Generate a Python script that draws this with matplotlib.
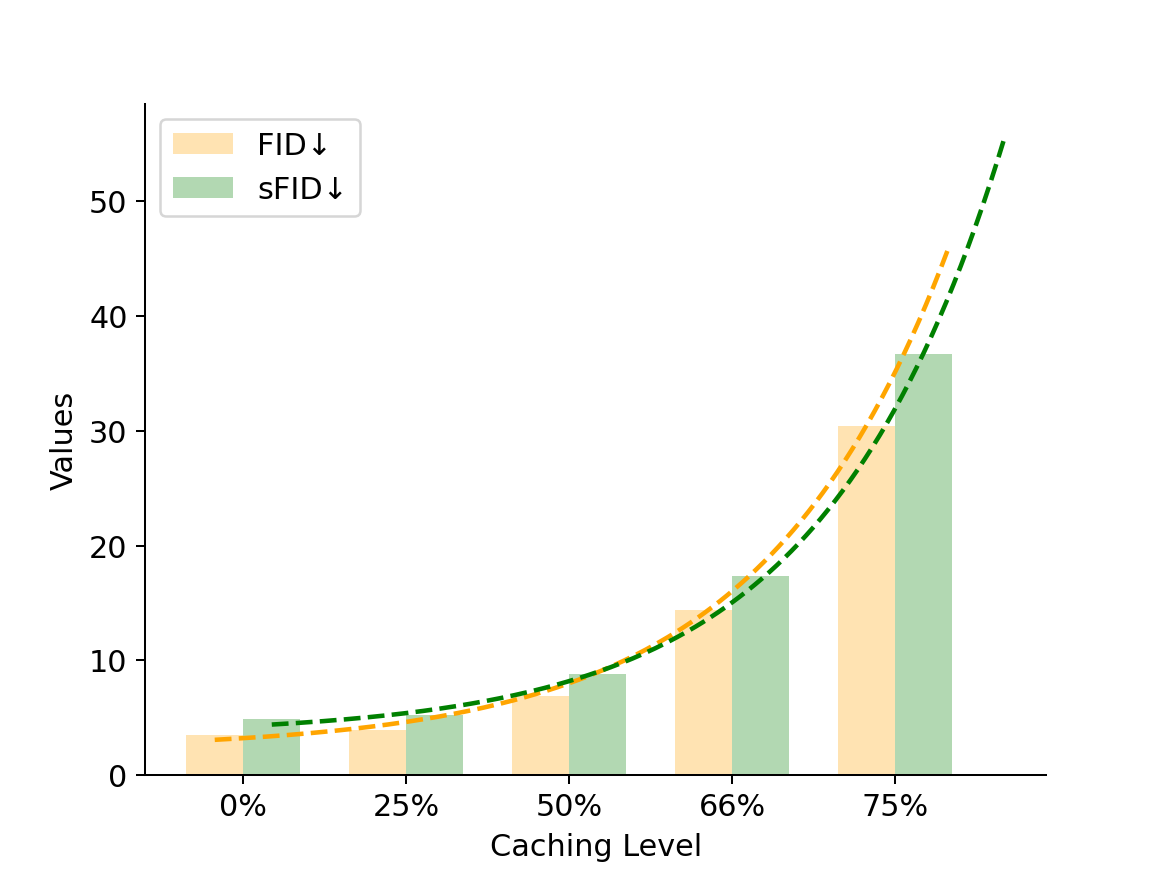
import numpy as np
import matplotlib
matplotlib.use('Agg')
import matplotlib.pyplot as plt

levels = ['0%', '25%', '50%', '66%', '75%']
fid = [3.5, 3.9, 6.9, 14.4, 30.4]
sfid = [4.9, 5.2, 8.8, 17.3, 36.7]

plt.rcParams['font.size'] = 12


def exp_fit(x, y):
    # a*exp(b*x)+c, b by grid search, a and c by least squares
    best = None
    for b in np.linspace(0.05, 2.0, 4000):
        A = np.column_stack([np.exp(b * x), np.ones_like(x)])
        coef, *_ = np.linalg.lstsq(A, y, rcond=None)
        err = np.sum((A @ coef - y) ** 2)
        if best is None or err < best[0]:
            best = (err, coef[0], b, coef[1])
    _, a, b, c = best
    return lambda t: a * np.exp(b * t) + c


x = np.arange(len(levels))
w = 0.35

fig, ax = plt.subplots(figsize=(6.4, 4.8), dpi=181.6)
ax.bar(x - w / 2, fid, w, color='orange', alpha=0.3, label='FID↓')
ax.bar(x + w / 2, sfid, w, color='green', alpha=0.3, label='sFID↓')

for pos, vals, col in [(x - w / 2, fid, 'orange'), (x + w / 2, sfid, 'green')]:
    f = exp_fit(pos.astype(float), np.array(vals))
    xs = np.linspace(pos[0], pos[-1] + 0.5, 200)
    ax.plot(xs, f(xs), '--', color=col, linewidth=1.8)

ax.set_xticks(x)
ax.set_xticklabels(levels)
ax.set_xlabel('Caching Level')
ax.set_ylabel('Values')
ax.legend(loc='upper left')
ax.spines['top'].set_visible(False)
ax.spines['right'].set_visible(False)

plt.savefig('out.png')
